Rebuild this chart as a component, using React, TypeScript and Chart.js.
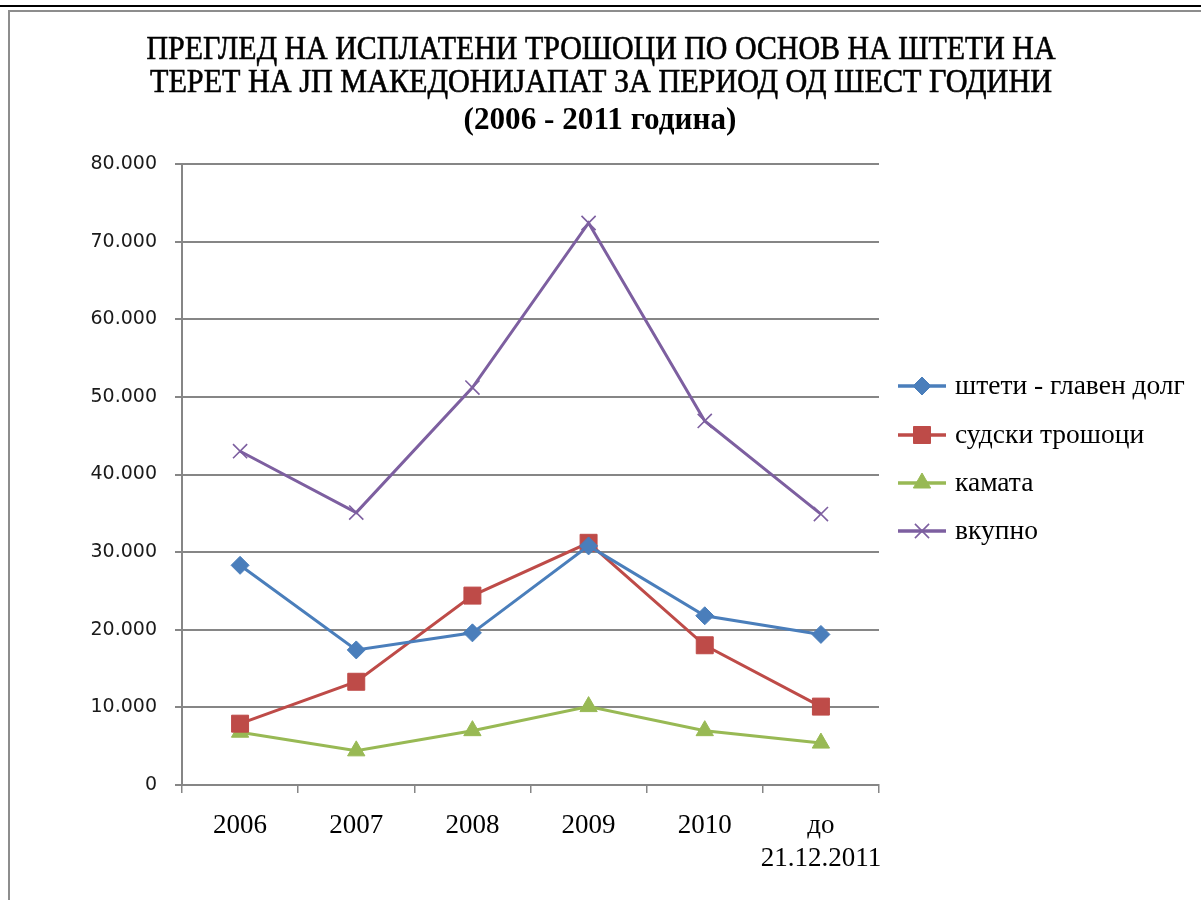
import React, { useEffect, useRef } from 'react';
import { Chart, registerables } from 'chart.js';
import { drawPoint } from 'chart.js/helpers';

Chart.register(...registerables);

const titleLines = [
  'ПРЕГЛЕД НА ИСПЛАТЕНИ ТРОШОЦИ ПО ОСНОВ НА ШТЕТИ НА',
  'ТЕРЕТ НА ЈП МАКЕДОНИЈАПАТ ЗА ПЕРИОД ОД ШЕСТ ГОДИНИ',
  '(2006 - 2011 година)',
];
const categories: (string | string[])[] = ['2006', '2007', '2008', '2009', '2010', ['до', '21.12.2011']];
const seriesNames = ['штети - главен долг', 'судски трошоци', 'камата', 'вкупно'];
const principal = [28300, 17400, 19600, 30800, 21800, 19400];
const courtCosts = [7900, 13300, 24400, 31200, 18000, 10100];
const interest = [6800, 4400, 7000, 10100, 7000, 5400];
const total = [43000, 35100, 51200, 72400, 46900, 34900];
const yMin = 0;
const yMax = 80000;
const yStep = 10000;

const colors = ['#4A7EBB', '#BE4B48', '#98B954', '#7D5FA0'];
const pointStyles = ['rectRot', 'rect', 'triangle', 'crossRot'];
const pointRadii = [9, 12, 10, 10];
const pointBorderWidths = [1, 1, 1, 1.6];

const formatTick = (v: number) => {
  if (v === 0) return '0';
  const s = String(Math.round(v));
  return s.replace(/\B(?=(\d{3})+(?!\d))/g, '.');
};

const titlePlugin = {
  id: 'customTitle',
  afterDraw(chart: any) {
    const ctx = chart.ctx as CanvasRenderingContext2D;
    const specs = [
      { w: 909, cx: 601, y: 59, font: '34px "Liberation Serif"', bold: false },
      { w: 902, cx: 601, y: 92, font: '34px "Liberation Serif"', bold: false },
      { w: 273, cx: 600, y: 129, font: 'bold 31px "Liberation Serif"', bold: true },
    ];
    ctx.save();
    ctx.fillStyle = '#000';
    ctx.strokeStyle = '#000';
    ctx.textBaseline = 'alphabetic';
    ctx.textAlign = 'center';
    titleLines.forEach((line, i) => {
      const sp = specs[i];
      ctx.font = sp.font;
      const m = ctx.measureText(line).width;
      const sx = sp.w / m;
      ctx.save();
      ctx.translate(sp.cx, sp.y);
      ctx.scale(sx, 1);
      ctx.fillText(line, 0, 0);
      if (!sp.bold) {
        ctx.lineWidth = 0.6;
        ctx.strokeText(line, 0, 0);
      }
      ctx.restore();
    });
    ctx.restore();
  },
};

const legendPlugin = {
  id: 'customLegend',
  afterDraw(chart: any) {
    const ctx = chart.ctx as CanvasRenderingContext2D;
    const ys = [386, 435, 483, 531];
    ctx.save();
    chart.data.datasets.forEach((ds: any, i: number) => {
      const y = ys[i];
      ctx.strokeStyle = ds.borderColor;
      ctx.lineWidth = 3.5;
      ctx.beginPath();
      ctx.moveTo(898, y);
      ctx.lineTo(946, y);
      ctx.stroke();
      ctx.fillStyle = ds.pointBackgroundColor;
      ctx.strokeStyle = ds.pointBorderColor;
      ctx.lineWidth = ds.pointBorderWidth;
      drawPoint(ctx, { pointStyle: ds.pointStyle, radius: ds.pointRadius, rotation: 0, borderWidth: ds.pointBorderWidth }, 922, y);
      ctx.fillStyle = '#000';
      ctx.font = '27.5px "Liberation Serif"';
      ctx.textAlign = 'left';
      ctx.textBaseline = 'middle';
      ctx.fillText(ds.label, 955, y + 1);
    });
    ctx.restore();
  },
};

export default function App() {
  const canvasRef = useRef<HTMLCanvasElement | null>(null);

  useEffect(() => {
    if (!canvasRef.current) return;
    const seriesData = [principal, courtCosts, interest, total];
    const chart = new Chart(canvasRef.current, {
      type: 'line',
      data: {
        labels: categories as any,
        datasets: seriesData.map((d, i) => ({
          label: seriesNames[i],
          data: d,
          borderColor: colors[i],
          backgroundColor: colors[i],
          borderWidth: 3,
          tension: 0,
          pointStyle: pointStyles[i] as any,
          pointRadius: pointRadii[i],
          pointHoverRadius: pointRadii[i],
          pointBackgroundColor: colors[i],
          pointBorderColor: colors[i],
          pointBorderWidth: pointBorderWidths[i],
          fill: false,
        })),
      },
      options: {
        responsive: false,
        animation: false,
        events: [],
        layout: { padding: { left: 0, top: 164, right: 322, bottom: 0 } },
        plugins: {
          legend: { display: false },
          title: { display: false },
          tooltip: { enabled: false },
        },
        scales: {
          x: {
            type: 'category',
            offset: true,
            grid: {
              offset: true,
              drawOnChartArea: false,
              drawTicks: true,
              tickLength: 8,
              color: '#868686',
              lineWidth: 1.5,
            },
            border: { color: '#868686', width: 2 },
            ticks: {
              font: { family: '"Liberation Serif"', size: 27, lineHeight: 1.2 },
              color: '#000',
              padding: 17,
              maxRotation: 0,
              autoSkip: false,
            },
            afterFit: (s: any) => {
              s.height = 115;
            },
          },
          y: {
            min: yMin,
            max: yMax,
            grid: {
              color: '#868686',
              lineWidth: 2,
              drawTicks: true,
              tickLength: 7,
            },
            border: { color: '#868686', width: 2 },
            ticks: {
              stepSize: yStep,
              font: { family: '"DejaVu Sans"', size: 19 },
              color: '#1a1a1a',
              padding: 18,
              callback: (v: any) => formatTick(Number(v)),
            },
            afterFit: (s: any) => {
              s.width = 182;
            },
          },
        },
      },
      plugins: [titlePlugin, legendPlugin],
    });
    return () => chart.destroy();
  }, []);

  return (
    <div style={{ position: 'fixed', left: 0, top: 0, width: 1201, height: 900, background: '#fff', overflow: 'hidden' }}>
      <div style={{ position: 'absolute', left: 0, top: 5, width: 1201, height: 2, background: '#000' }} />
      <div
        style={{
          position: 'absolute',
          left: 8,
          top: 10,
          width: 1201,
          height: 900,
          borderTop: '2px solid #8d8d8d',
          borderLeft: '2px solid #8d8d8d',
        }}
      />
      <canvas
        ref={canvasRef}
        width={1201}
        height={900}
        style={{ position: 'absolute', left: 0, top: 0, width: 1201, height: 900, display: 'block' }}
      />
    </div>
  );
}
